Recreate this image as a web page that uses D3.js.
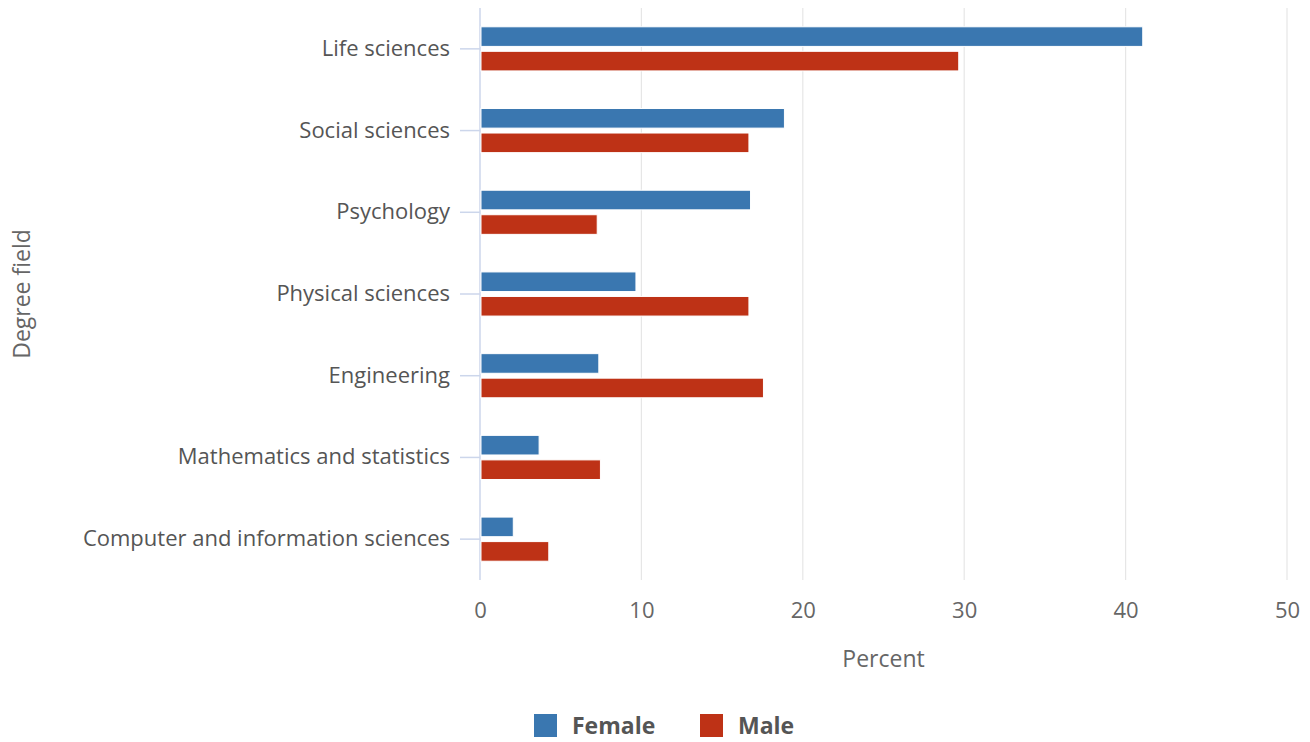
<!DOCTYPE html>
<html>
<head>
<meta charset="utf-8">
<script src="https://cdn.jsdelivr.net/npm/d3@7"></script>
<style>
  body { margin: 0; background: #fff; }
  svg { font-family: "Open Sans", sans-serif; }
</style>
</head>
<body>
<svg id="chart" width="1310" height="742"></svg>
<script>
// data
const categories = ["Life sciences", "Social sciences", "Psychology", "Physical sciences",
  "Engineering", "Mathematics and statistics", "Computer and information sciences"];
const seriesNames = ["Female", "Male"];
const female = [41.0, 18.8, 16.7, 9.6, 7.3, 3.6, 2.0];
const male = [29.6, 16.6, 7.2, 16.6, 17.5, 7.4, 4.2];
const xTicks = [0, 10, 20, 30, 40, 50];
const colors = ["#3a77b0", "#be3216"];

const svg = d3.select("#chart");
const plotLeft = 480, plotRight = 1287, plotTop = 8, plotBottom = 580;

const x = d3.scaleLinear().domain([0, 50]).range([plotLeft, plotRight]);
const y0 = d3.scaleBand().domain(categories).range([plotTop, plotBottom])
  .paddingInner(0.4).paddingOuter(0.2);
const y1 = d3.scaleBand().domain(seriesNames).range([0, y0.bandwidth()])
  .paddingInner(0.2).paddingOuter(0.1);

// grid
svg.append("g")
  .selectAll("line")
  .data(xTicks.filter(d => d > 0))
  .enter().append("line")
  .attr("x1", d => x(d)).attr("x2", d => x(d))
  .attr("y1", plotTop).attr("y2", plotBottom)
  .attr("stroke", "#e6e6e6").attr("stroke-width", 1.2);

// x axis labels
const xAxis = svg.append("g")
  .attr("transform", "translate(0," + plotBottom + ")")
  .call(d3.axisBottom(x).tickValues(xTicks).tickSize(0).tickPadding(22));
xAxis.select(".domain").remove();
xAxis.selectAll("text")
  .attr("font-size", 22).attr("fill", "#666").attr("font-family", "Open Sans");

// y axis
const yAxis = svg.append("g")
  .attr("transform", "translate(" + plotLeft + ",0)")
  .call(d3.axisLeft(y0).tickSize(20).tickPadding(10));
yAxis.select(".domain")
  .attr("stroke", "#ccd6eb").attr("stroke-width", 1.5)
  .attr("d", "M0," + plotTop + "V" + plotBottom);
yAxis.selectAll(".tick line").attr("stroke", "#ccd6eb").attr("stroke-width", 1.5);
yAxis.selectAll("text")
  .attr("font-size", 22).attr("fill", "#555").attr("font-family", "Open Sans");

// bars
const groups = svg.append("g")
  .selectAll("g")
  .data(categories)
  .enter().append("g")
  .attr("transform", d => "translate(0," + y0(d) + ")");

groups.selectAll("rect")
  .data((d, i) => [{ s: "Female", v: female[i] }, { s: "Male", v: male[i] }])
  .enter().append("rect")
  .attr("x", x(0) + 1)
  .attr("y", d => y1(d.s))
  .attr("width", d => x(d.v) - x(0))
  .attr("height", y1.bandwidth())
  .attr("fill", (d, i) => colors[i])
  .attr("stroke", "#fff").attr("stroke-width", 1);

// axis titles
svg.append("text")
  .attr("x", (plotLeft + plotRight) / 2).attr("y", 667)
  .attr("text-anchor", "middle")
  .attr("font-size", 23).attr("fill", "#666")
  .text("Percent");

svg.append("text")
  .attr("transform", "translate(30," + (plotTop + plotBottom) / 2 + ") rotate(-90)")
  .attr("text-anchor", "middle")
  .attr("font-size", 23).attr("fill", "#666")
  .text("Degree field");

// legend
const legendX = [534, 700];
const legend = svg.append("g")
  .selectAll("g")
  .data(seriesNames)
  .enter().append("g")
  .attr("transform", (d, i) => "translate(" + legendX[i] + ",714)");
legend.append("rect")
  .attr("width", 23).attr("height", 23)
  .attr("fill", (d, i) => colors[i]);
legend.append("text")
  .attr("x", 38).attr("y", 20)
  .attr("font-size", 23).attr("font-weight", "bold").attr("fill", "#555")
  .text(d => d);
</script>
</body>
</html>
